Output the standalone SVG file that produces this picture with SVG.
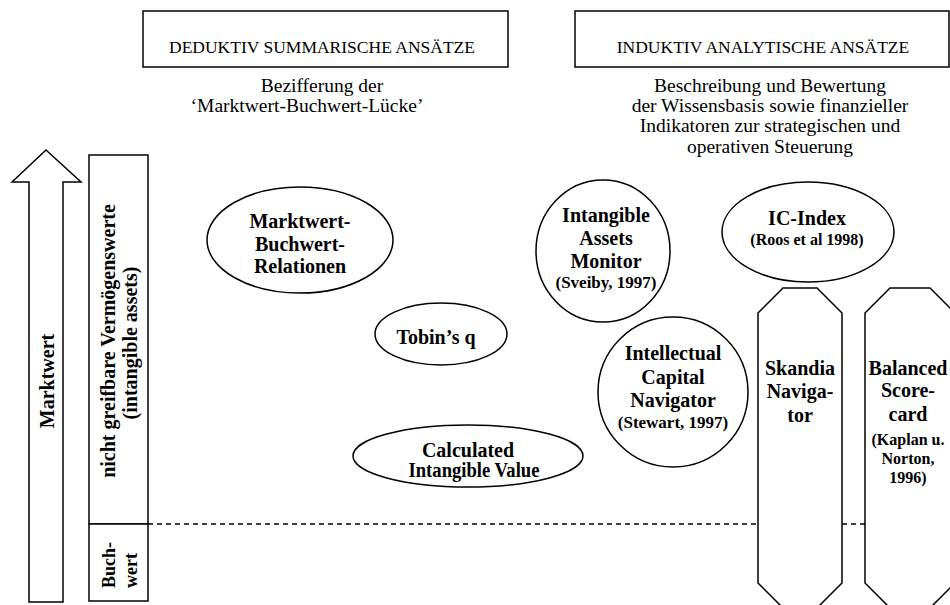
<svg xmlns="http://www.w3.org/2000/svg" width="950" height="605" viewBox="0 0 950 605">
<style>
  .shape { fill: #fff; stroke: #000; stroke-width: 1.5; }
  .hdr { font-family: "Liberation Serif", "Times New Roman", serif; font-size: 17.5px; fill: #000; text-anchor: middle; }
  .sub { font-family: "Liberation Serif", "Times New Roman", serif; font-size: 19.5px; fill: #000; text-anchor: middle; }
  .b { font-family: "Liberation Serif", "Times New Roman", serif; font-size: 20px; font-weight: bold; fill: #000; text-anchor: middle; }
  .bs { font-family: "Liberation Serif", "Times New Roman", serif; font-size: 17px; font-weight: bold; fill: #000; text-anchor: middle; }
  .dash { stroke: #000; stroke-width: 1.5; stroke-dasharray: 5 4; fill: none; }
</style>
<rect width="950" height="605" fill="#fff"/>

<g id="header-deduktiv">
  <rect class="shape" x="143" y="11" width="365" height="56"/>
  <text class="hdr" x="322" y="53">DEDUKTIV SUMMARISCHE ANSÄTZE</text>
  <text class="sub" x="322" y="92">Bezifferung der</text>
  <text class="sub" x="307" y="112">‘Marktwert-Buchwert-Lücke’</text>
</g>

<g id="header-induktiv">
  <rect class="shape" x="575" y="11" width="374" height="56"/>
  <text class="hdr" x="763" y="53">INDUKTIV ANALYTISCHE ANSÄTZE</text>
  <text class="sub" x="770" y="92">Beschreibung und Bewertung</text>
  <text class="sub" x="770" y="112">der Wissensbasis sowie finanzieller</text>
  <text class="sub" x="770" y="132">Indikatoren zur strategischen und</text>
  <text class="sub" x="770" y="153">operativen Steuerung</text>
</g>

<g id="marktwert-arrow">
  <polygon class="shape" points="46,150 81,182 63,182 63,602 29,602 29,182 12,182"/>
  <text class="b" transform="translate(54,381) rotate(-90)">Marktwert</text>
</g>

<g id="intangible-column">
  <rect class="shape" x="89" y="155" width="59" height="369"/>
  <text class="b" transform="translate(115,341) rotate(-90)">nicht greifbare Vermögenswerte</text>
  <text class="b" transform="translate(137,343) rotate(-90)">(intangible assets)</text>
</g>

<g id="buchwert-column">
  <rect class="shape" x="89" y="524" width="59" height="77"/>
  <text class="b" style="text-anchor:start;font-size:18px" transform="translate(115,588) rotate(-90)">Buch-</text>
  <text class="b" style="text-anchor:start;font-size:18px" transform="translate(137,588) rotate(-90)">wert</text>
</g>

<g id="connectors">
  <line class="dash" x1="148" y1="524" x2="758" y2="524"/>
  <line class="dash" x1="842" y1="524" x2="865" y2="524"/>
</g>

<g id="node-mbr">
  <ellipse class="shape" cx="300" cy="240" rx="93" ry="53"/>
  <text class="b" x="300" y="228">Marktwert-</text>
  <text class="b" x="300" y="251">Buchwert-</text>
  <text class="b" x="300" y="273">Relationen</text>
</g>

<g id="node-tobin">
  <ellipse class="shape" cx="441" cy="334" rx="66" ry="31"/>
  <text class="b" x="436" y="344">Tobin’s q</text>
</g>

<g id="node-civ">
  <ellipse class="shape" cx="468" cy="456" rx="115" ry="31"/>
  <text class="b" x="468" y="457">Calculated</text>
  <text class="b" x="474" y="477" textLength="131" lengthAdjust="spacingAndGlyphs">Intangible Value</text>
</g>

<g id="node-iam">
  <ellipse class="shape" cx="603" cy="251" rx="67" ry="71"/>
  <text class="b" x="606" y="222">Intangible</text>
  <text class="b" x="606" y="245">Assets</text>
  <text class="b" x="606" y="268">Monitor</text>
  <text class="bs" x="606" y="288">(Sveiby, 1997)</text>
</g>

<g id="node-icn">
  <ellipse class="shape" cx="673" cy="392" rx="75" ry="75"/>
  <text class="b" x="673" y="360">Intellectual</text>
  <text class="b" x="673" y="384">Capital</text>
  <text class="b" x="673" y="407">Navigator</text>
  <text class="bs" x="673" y="428">(Stewart, 1997)</text>
</g>

<g id="node-icindex">
  <ellipse class="shape" cx="808" cy="232" rx="86" ry="50"/>
  <text class="b" x="807" y="225">IC-Index</text>
  <text class="bs" style="font-size:16px" x="807" y="245">(Roos et al 1998)</text>
</g>

<g id="node-skandia">
  <polygon class="shape" points="758,313 783,288 817,288 842,313 842,583 817,608 783,608 758,583"/>
  <text class="b" x="800" y="375">Skandia</text>
  <text class="b" x="800" y="398">Naviga-</text>
  <text class="b" x="800" y="422">tor</text>
</g>

<g id="node-bsc">
  <polygon class="shape" points="865,313 890,288 930,288 955,313 955,583 930,608 890,608 865,583"/>
  <text class="b" x="908" y="375">Balanced</text>
  <text class="b" x="908" y="397">Score-</text>
  <text class="b" x="908" y="421">card</text>
  <text class="bs" style="font-size:16px" x="908" y="445">(Kaplan u.</text>
  <text class="bs" style="font-size:16px" x="908" y="464">Norton,</text>
  <text class="bs" style="font-size:16px" x="908" y="483">1996)</text>
</g>
</svg>
